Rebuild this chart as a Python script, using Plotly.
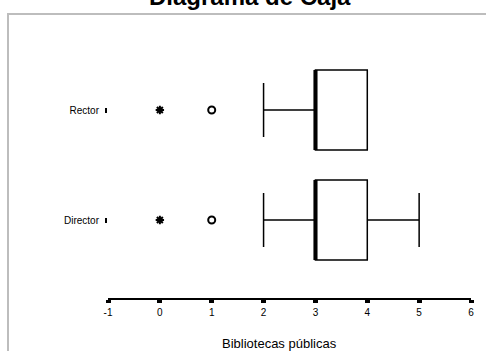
import plotly.graph_objects as go

categories = ["Rector", "Director"]
q1 = [3, 3]
median = [3, 3]
q3 = [4, 4]
lower_fence = [2, 2]
upper_fence = [4, 5]
outliers = [1, 1]          # circles
extremes = [0, 0]          # asterisks
x_ticks = [-1, 0, 1, 2, 3, 4, 5, 6]

W, H = 486, 351
ML, MR, MT, MB = 108, 15, 14, 53
pw, ph = W - ML - MR, H - MT - MB
px_per_cat = 110.0
top_units = (110 - MT) / px_per_cat
yr = [-top_units + ph / px_per_cat, -top_units]
box_w = 80 / px_per_cat

pos = list(range(len(categories)))
fig = go.Figure()
for i, c in enumerate(categories):
    fig.add_trace(go.Box(
        y=[pos[i]], q1=[q1[i]], median=[median[i]], q3=[q3[i]],
        lowerfence=[lower_fence[i]], upperfence=[upper_fence[i]],
        orientation="h", width=box_w, whiskerwidth=0.675,
        fillcolor="white", line=dict(color="black", width=1.5),
        boxpoints=False, showlegend=False, hoverinfo="skip", name=c))
    fig.add_trace(go.Scatter(
        x=[median[i], median[i]], y=[pos[i] - box_w / 2, pos[i] + box_w / 2],
        mode="lines", line=dict(color="black", width=4), showlegend=False,
        hoverinfo="skip"))
fig.add_trace(go.Scatter(
    x=outliers, y=pos, mode="markers", showlegend=False,
    marker=dict(symbol="circle-open", size=7, color="black", line=dict(width=2))))
fig.add_trace(go.Scatter(
    x=extremes, y=pos, mode="markers", showlegend=False,
    marker=dict(symbol="asterisk-open", size=7, color="black", line=dict(width=2))))

font = "Liberation Sans, Arial, sans-serif"
fig.update_layout(
    width=W, height=H, margin=dict(l=ML, r=MR, t=MT, b=MB, autoexpand=False),
    paper_bgcolor="white", plot_bgcolor="white",
    font=dict(family=font, color="black", size=10),
    xaxis=dict(range=[x_ticks[0], x_ticks[-1]], tickvals=x_ticks,
               ticktext=[str(v) for v in x_ticks], showgrid=False, zeroline=False,
               showline=True, linecolor="black", linewidth=1.5,
               ticks="outside", ticklen=3, tickwidth=5, tickcolor="black",
               tickfont=dict(size=10), ticklabelstandoff=1),
    yaxis=dict(range=yr, tickvals=pos, ticktext=categories, showgrid=False,
               zeroline=False, showline=False, ticks="outside", ticklen=2,
               tickwidth=5, tickcolor="black", tickfont=dict(size=10),
               ticklabelstandoff=4),
    shapes=[dict(type="rect", xref="paper", yref="paper",
                 x0=(8 - ML) / pw, x1=1.2, y0=-0.5, y1=1.0,
                 line=dict(color="#bdbdbd", width=2), layer="below")],
    annotations=[
        dict(text="<b>Diagrama de Caja</b>", xref="paper", yref="paper",
             x=(250 - ML) / pw, y=1 + (MT + 3) / ph, xanchor="center",
             yanchor="middle", showarrow=False, font=dict(size=24)),
        dict(text="Bibliotecas públicas", xref="paper", yref="paper",
             x=(279 - ML) / pw, y=-(343 - (H - MB)) / ph, xanchor="center",
             yanchor="middle", showarrow=False, font=dict(size=13)),
    ],
)
fig.write_html("out.html", config={"displayModeBar": False},
               post_script="document.body.style.margin='0';document.body.style.overflow='hidden';")
